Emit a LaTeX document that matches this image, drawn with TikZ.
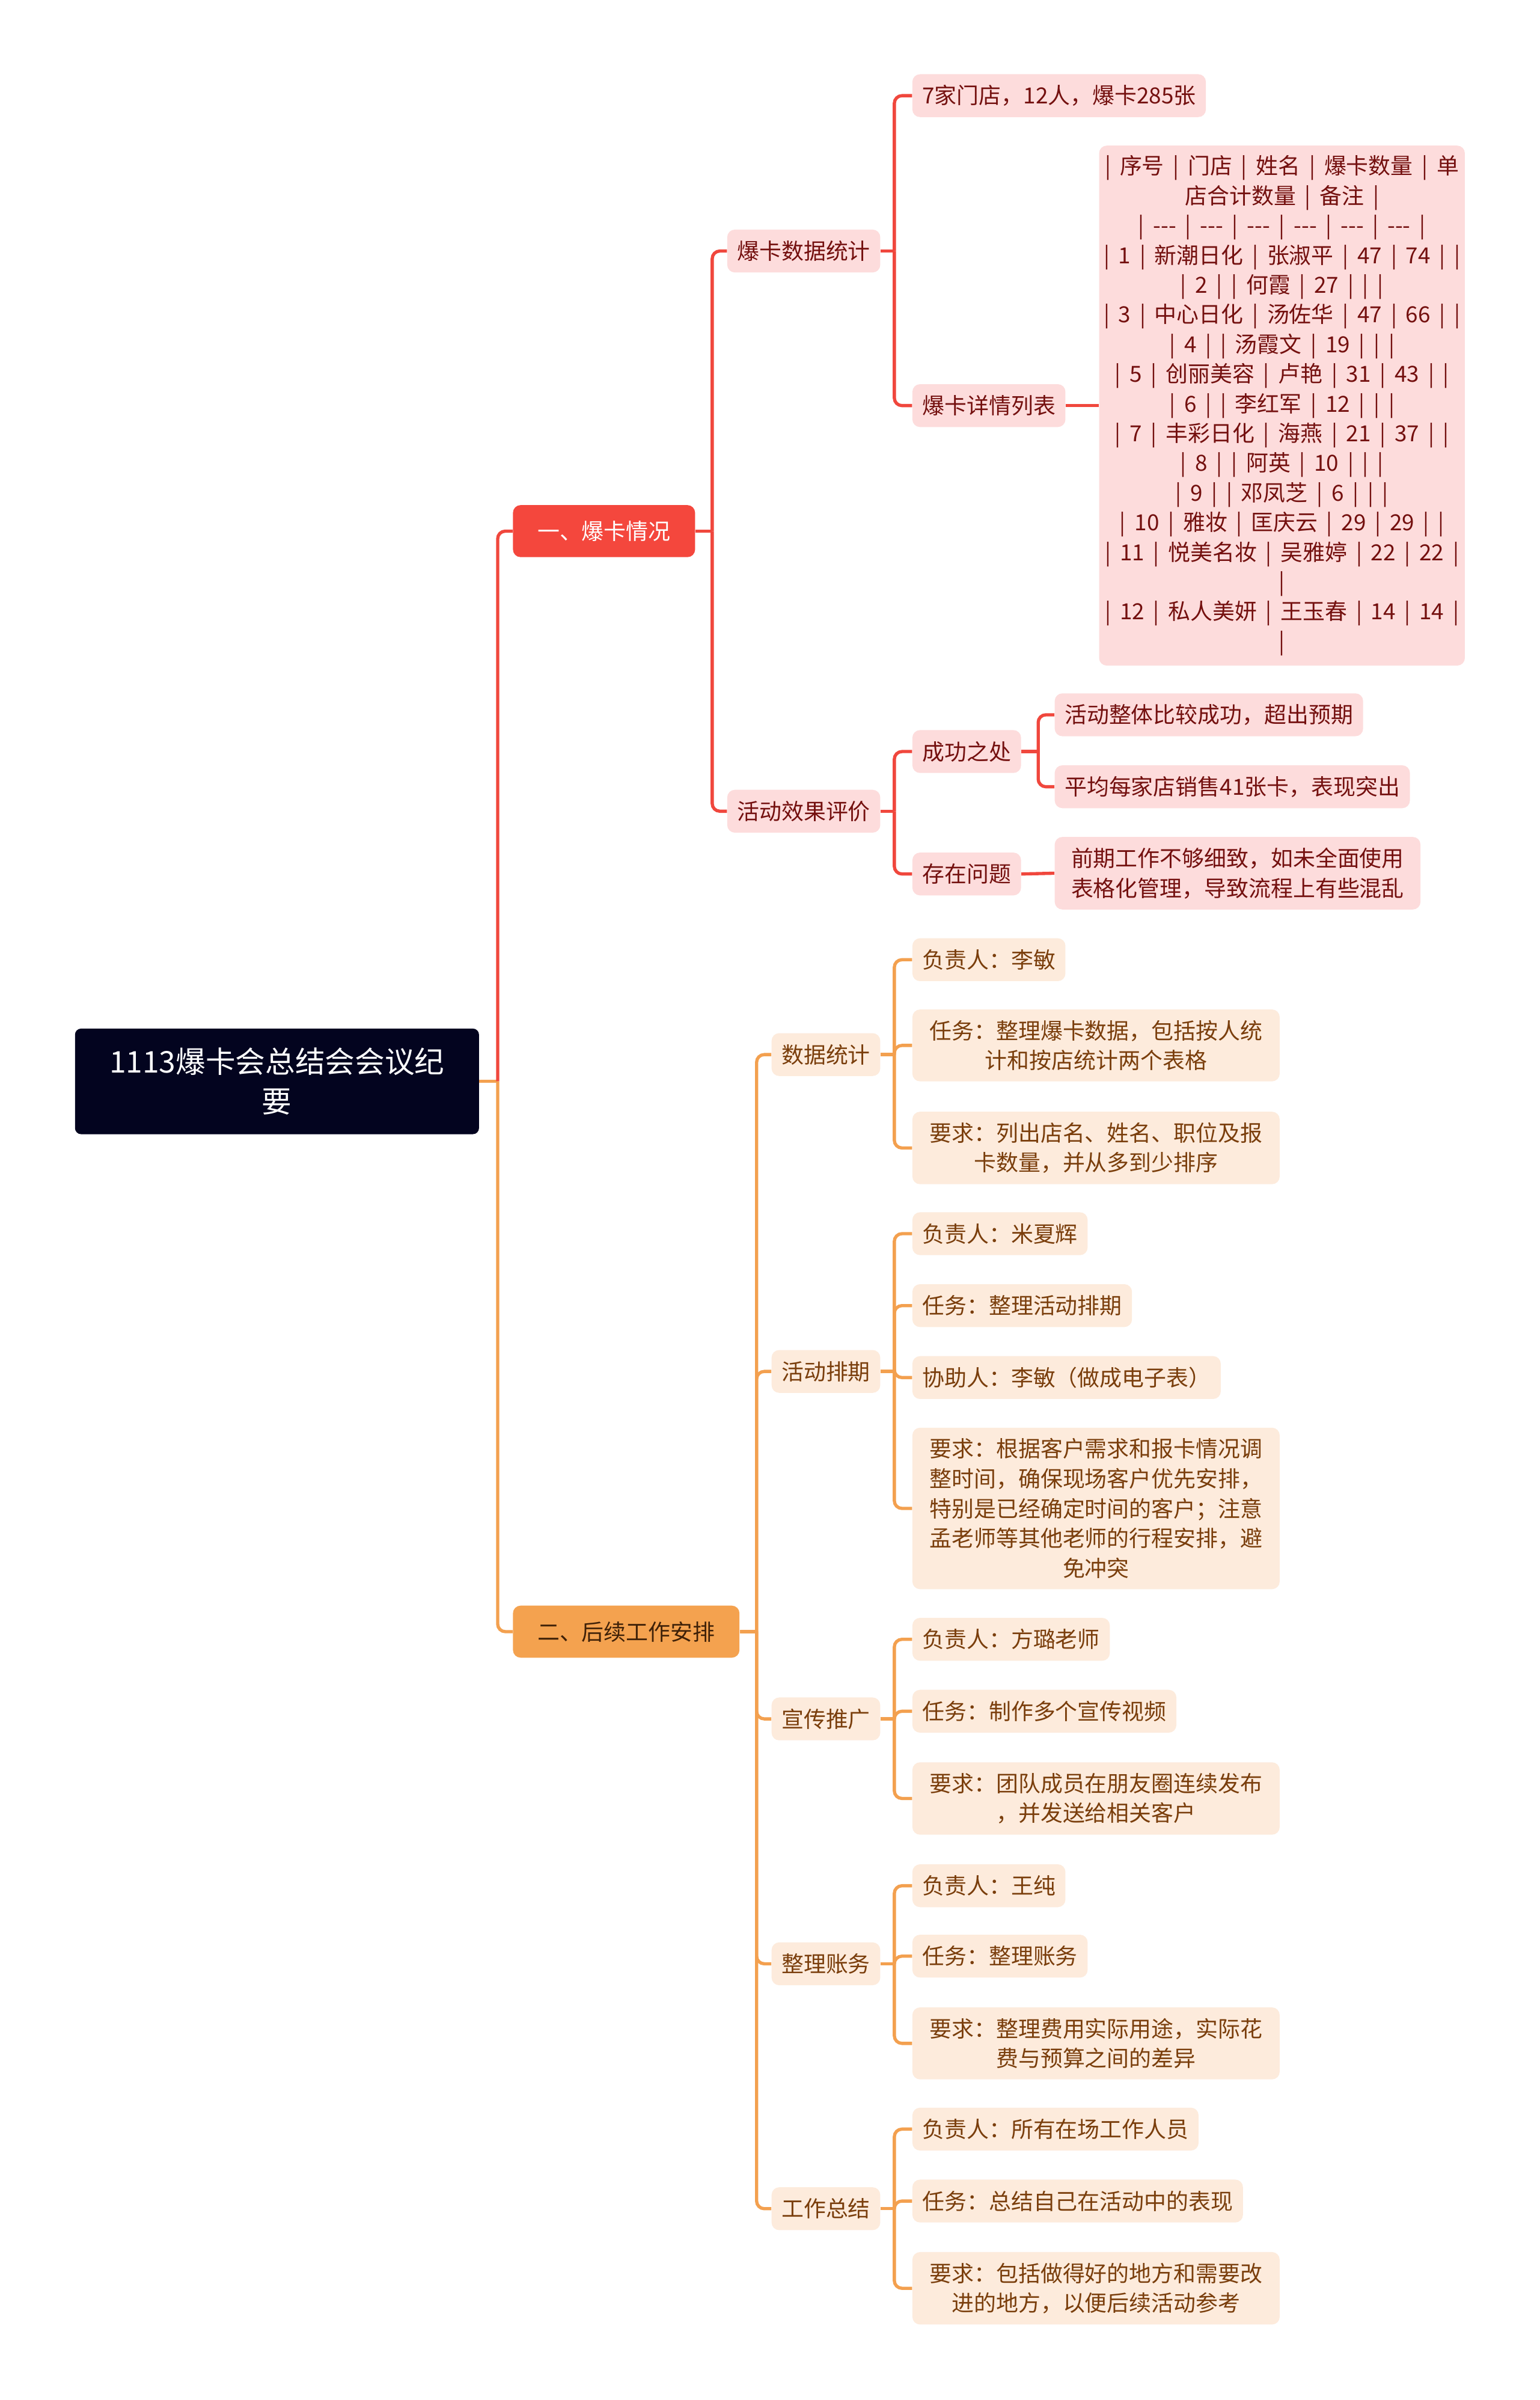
\documentclass[tikz,border=0pt]{standalone}
\usepackage{fontspec}
\setmainfont{Noto Sans CJK SC}
\usetikzlibrary{calc}
\definecolor{lred}{HTML}{F0473D}
\definecolor{redbox}{HTML}{F4473D}
\definecolor{pkfill}{HTML}{FDDCDC}
\definecolor{pktext}{HTML}{74100F}
\definecolor{lor}{HTML}{F3A04F}
\definecolor{orbox}{HTML}{F4A24F}
\definecolor{orfill}{HTML}{FDEBDC}
\definecolor{ortext}{HTML}{7A3E0C}
\definecolor{ordark}{HTML}{3F2108}
\definecolor{navy}{HTML}{03041F}
\newcommand\tdash{-{}-{}-}
\begin{document}
\begin{tikzpicture}[x=1pt,y=-1pt,
  basebox/.style={rounded corners=5pt, font=\fontsize{14.5}{19.5}\selectfont, inner ysep=0pt, minimum height=28pt, anchor=west},
  pk/.style={basebox, fill=pkfill, text=pktext, inner xsep=6.5pt},
  pkm/.style={pk, text width=219pt, align=center, inner xsep=10pt, inner ysep=7pt, minimum height=0pt},
  orn/.style={basebox, fill=orfill, text=ortext, inner xsep=6.5pt},
  orm/.style={orn, text width=219pt, align=center, inner xsep=10.5pt, inner ysep=7pt, minimum height=0pt},
  lvlred/.style={basebox, fill=redbox, text=white, inner xsep=16pt, minimum height=34pt},
  lvlor/.style={basebox, fill=orbox, text=ordark, inner xsep=16pt, minimum height=34pt},
  rootbox/.style={fill=navy, text=white, rounded corners=4pt, minimum width=264pt, minimum height=69pt, align=center, font=\fontsize{19.5}{26}\selectfont},
  redln/.style={draw=lred, line width=2.1pt},
  orln/.style={draw=lor, line width=2.1pt},
  rnd/.style={rounded corners=5pt}
]
\useasboundingbox[fill=white] (0,0) rectangle (1006,1568);

% root
\node[rootbox] (root) at (181,706.5) {1113爆卡会总结会会议纪\\要};

% level 1
\node[lvlred] (la) at (335,347) {一、爆卡情况};
\node[lvlor] (lb) at (335,1066) {二、后续工作安排};

% red part
\node[pk] (a1) at (475,164) {爆卡数据统计};
\node[pk] (a2) at (475,530) {活动效果评价};
\node[pk] (b1) at (596,62.5) {7家门店，12人，爆卡285张};
\node[pk] (b2) at (596,265) {爆卡详情列表};
\node[pk, text width=233pt, align=center, inner xsep=3pt, inner ysep=6.5pt, minimum height=0pt, font=\fontsize{14.5}{19.4}\selectfont] (tb) at (718,265) {\spaceskip=0.4em\relax
| 序号 | 门店 | 姓名 | 爆卡数量 | 单\\
店合计数量 | 备注 |\\
| \tdash{} | \tdash{} | \tdash{} | \tdash{} | \tdash{} | \tdash{} |\\
| 1 | 新潮日化 | 张淑平 | 47 | 74 | |\\
| 2 | | 何霞 | 27 | | |\\
| 3 | 中心日化 | 汤佐华 | 47 | 66 | |\\
| 4 | | 汤霞文 | 19 | | |\\
| 5 | 创丽美容 | 卢艳 | 31 | 43 | |\\
| 6 | | 李红军 | 12 | | |\\
| 7 | 丰彩日化 | 海燕 | 21 | 37 | |\\
| 8 | | 阿英 | 10 | | |\\
| 9 | | 邓凤芝 | 6 | | |\\
| 10 | 雅妆 | 匡庆云 | 29 | 29 | |\\
| 11 | 悦美名妆 | 吴雅婷 | 22 | 22 |\\
|\\
| 12 | 私人美妍 | 王玉春 | 14 | 14 |\\
|};
\node[pk] (c1) at (596,491) {成功之处};
\node[pk] (c2) at (596,571) {存在问题};
\node[pk] (d1) at (689,467) {活动整体比较成功，超出预期};
\node[pk] (d2) at (689,514) {平均每家店销售41张卡，表现突出};
\node[pkm] (d3) at (689,570.5) {前期工作不够细致，如未全面使用\\表格化管理，导致流程上有些混乱};

% orange part
\node[orn] (o1) at (504,689) {数据统计};
\node[orn] (o2) at (504,896) {活动排期};
\node[orn] (o3) at (504,1123) {宣传推广};
\node[orn] (o4) at (504,1283) {整理账务};
\node[orn] (o5) at (504,1443) {工作总结};

\node[orn] (p11) at (596,627) {负责人：李敏};
\node[orm] (p12) at (596,683) {任务：整理爆卡数据，包括按人统\\计和按店统计两个表格};
\node[orm] (p13) at (596,750) {要求：列出店名、姓名、职位及报\\卡数量，并从多到少排序};

\node[orn] (p21) at (596,806) {负责人：米夏辉};
\node[orn] (p22) at (596,853) {任务：整理活动排期};
\node[orn] (p23) at (596,900) {协助人：李敏（做成电子表）};
\node[orm] (p24) at (596,985.5) {要求：根据客户需求和报卡情况调\\整时间，确保现场客户优先安排，\\特别是已经确定时间的客户；注意\\孟老师等其他老师的行程安排，避\\免冲突};

\node[orn] (p31) at (596,1071) {负责人：方璐老师};
\node[orn] (p32) at (596,1118) {任务：制作多个宣传视频};
\node[orm] (p33) at (596,1175) {要求：团队成员在朋友圈连续发布\\，并发送给相关客户};

\node[orn] (p41) at (596,1232) {负责人：王纯};
\node[orn] (p42) at (596,1278) {任务：整理账务};
\node[orm] (p43) at (596,1335) {要求：整理费用实际用途，实际花\\费与预算之间的差异};

\node[orn] (p51) at (596,1391) {负责人：所有在场工作人员};
\node[orn] (p52) at (596,1438) {任务：总结自己在活动中的表现};
\node[orm] (p53) at (596,1495) {要求：包括做得好的地方和需要改\\进的地方，以便后续活动参考};

% connectors: root
\draw[orln] (root.east) -- ++(12,0) coordinate (jr);
\draw[redln,rnd] (jr) |- (la.west);
\draw[orln,rnd] (jr) |- (lb.west);

% red connectors
\draw[redln] (la.east) -- ++(11,0) coordinate (jla);
\draw[redln,rnd] (jla) |- (a1.west);
\draw[redln,rnd] (jla) |- (a2.west);
\draw[redln] (a1.east) -- ++(9,0) coordinate (ja1);
\draw[redln,rnd] (ja1) |- (b1.west);
\draw[redln,rnd] (ja1) |- (b2.west);
\draw[redln] (b2.east) -- (tb.west);
\draw[redln] (a2.east) -- ++(9,0) coordinate (ja2);
\draw[redln,rnd] (ja2) |- (c1.west);
\draw[redln,rnd] (ja2) |- (c2.west);
\draw[redln] (c1.east) -- ++(11,0) coordinate (jc1);
\draw[redln,rnd] (jc1) |- (d1.west);
\draw[redln,rnd] (jc1) |- (d2.west);
\draw[redln] (c2.east) -- (d3.west);

% orange connectors
\draw[orln] (lb.east) -- ++(11,0) coordinate (jlb);
\foreach \n in {o1,o2,o3,o4,o5} \draw[orln,rnd] (jlb) |- (\n.west);
\draw[orln] (o1.east) -- ++(9,0) coordinate (jo1);
\foreach \n in {p11,p12,p13} \draw[orln,rnd] (jo1) |- (\n.west);
\draw[orln] (o2.east) -- ++(9,0) coordinate (jo2);
\foreach \n in {p21,p22,p23,p24} \draw[orln,rnd] (jo2) |- (\n.west);
\draw[orln] (o3.east) -- ++(9,0) coordinate (jo3);
\foreach \n in {p31,p32,p33} \draw[orln,rnd] (jo3) |- (\n.west);
\draw[orln] (o4.east) -- ++(9,0) coordinate (jo4);
\foreach \n in {p41,p42,p43} \draw[orln,rnd] (jo4) |- (\n.west);
\draw[orln] (o5.east) -- ++(9,0) coordinate (jo5);
\foreach \n in {p51,p52,p53} \draw[orln,rnd] (jo5) |- (\n.west);
\end{tikzpicture}
\end{document}
